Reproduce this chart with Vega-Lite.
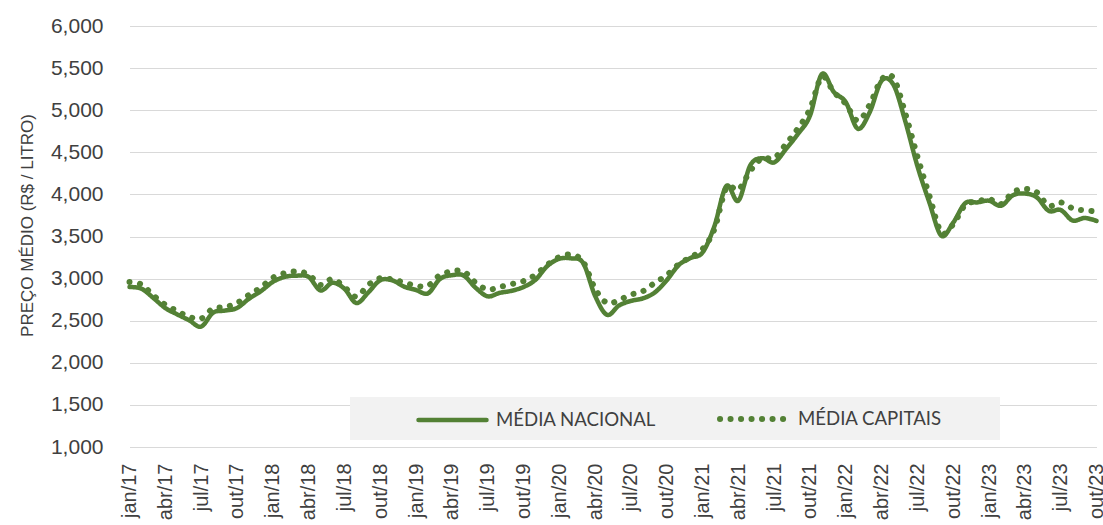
{
  "$schema": "https://vega.github.io/schema/vega-lite/v6.json",
  "autosize": {"type": "none"},
  "padding": {"left": 124, "top": 26, "right": 0, "bottom": 78},
  "width": 979,
  "height": 421,
  "background": "white",
  "config": {"view": {"stroke": null}},
  "data": {"values": [
    {"mes": "jan/17", "MÉDIA NACIONAL": 2900, "MÉDIA CAPITAIS": 2960},
    {"mes": "fev/17", "MÉDIA NACIONAL": 2880, "MÉDIA CAPITAIS": 2930},
    {"mes": "mar/17", "MÉDIA NACIONAL": 2770, "MÉDIA CAPITAIS": 2800},
    {"mes": "abr/17", "MÉDIA NACIONAL": 2650, "MÉDIA CAPITAIS": 2690},
    {"mes": "mai/17", "MÉDIA NACIONAL": 2575, "MÉDIA CAPITAIS": 2615},
    {"mes": "jun/17", "MÉDIA NACIONAL": 2505, "MÉDIA CAPITAIS": 2545},
    {"mes": "jul/17", "MÉDIA NACIONAL": 2430, "MÉDIA CAPITAIS": 2525},
    {"mes": "ago/17", "MÉDIA NACIONAL": 2595, "MÉDIA CAPITAIS": 2645},
    {"mes": "set/17", "MÉDIA NACIONAL": 2620, "MÉDIA CAPITAIS": 2660},
    {"mes": "out/17", "MÉDIA NACIONAL": 2650, "MÉDIA CAPITAIS": 2710},
    {"mes": "nov/17", "MÉDIA NACIONAL": 2760, "MÉDIA CAPITAIS": 2805},
    {"mes": "dez/17", "MÉDIA NACIONAL": 2850, "MÉDIA CAPITAIS": 2895},
    {"mes": "jan/18", "MÉDIA NACIONAL": 2960, "MÉDIA CAPITAIS": 3010},
    {"mes": "fev/18", "MÉDIA NACIONAL": 3020, "MÉDIA CAPITAIS": 3065},
    {"mes": "mar/18", "MÉDIA NACIONAL": 3035, "MÉDIA CAPITAIS": 3085},
    {"mes": "abr/18", "MÉDIA NACIONAL": 3020, "MÉDIA CAPITAIS": 3050},
    {"mes": "mai/18", "MÉDIA NACIONAL": 2860, "MÉDIA CAPITAIS": 2925},
    {"mes": "jun/18", "MÉDIA NACIONAL": 2950, "MÉDIA CAPITAIS": 2995},
    {"mes": "jul/18", "MÉDIA NACIONAL": 2880, "MÉDIA CAPITAIS": 2900},
    {"mes": "ago/18", "MÉDIA NACIONAL": 2710, "MÉDIA CAPITAIS": 2785},
    {"mes": "set/18", "MÉDIA NACIONAL": 2835, "MÉDIA CAPITAIS": 2925},
    {"mes": "out/18", "MÉDIA NACIONAL": 2980, "MÉDIA CAPITAIS": 3005},
    {"mes": "nov/18", "MÉDIA NACIONAL": 2980, "MÉDIA CAPITAIS": 2990},
    {"mes": "dez/18", "MÉDIA NACIONAL": 2905, "MÉDIA CAPITAIS": 2955},
    {"mes": "jan/19", "MÉDIA NACIONAL": 2865, "MÉDIA CAPITAIS": 2915},
    {"mes": "fev/19", "MÉDIA NACIONAL": 2825, "MÉDIA CAPITAIS": 2915},
    {"mes": "mar/19", "MÉDIA NACIONAL": 2995, "MÉDIA CAPITAIS": 3040},
    {"mes": "abr/19", "MÉDIA NACIONAL": 3040, "MÉDIA CAPITAIS": 3085},
    {"mes": "mai/19", "MÉDIA NACIONAL": 3035, "MÉDIA CAPITAIS": 3085},
    {"mes": "jun/19", "MÉDIA NACIONAL": 2890, "MÉDIA CAPITAIS": 2950},
    {"mes": "jul/19", "MÉDIA NACIONAL": 2790, "MÉDIA CAPITAIS": 2870},
    {"mes": "ago/19", "MÉDIA NACIONAL": 2830, "MÉDIA CAPITAIS": 2900},
    {"mes": "set/19", "MÉDIA NACIONAL": 2855, "MÉDIA CAPITAIS": 2935},
    {"mes": "out/19", "MÉDIA NACIONAL": 2900, "MÉDIA CAPITAIS": 2970},
    {"mes": "nov/19", "MÉDIA NACIONAL": 2985, "MÉDIA CAPITAIS": 3045},
    {"mes": "dez/19", "MÉDIA NACIONAL": 3150, "MÉDIA CAPITAIS": 3165},
    {"mes": "jan/20", "MÉDIA NACIONAL": 3235, "MÉDIA CAPITAIS": 3255},
    {"mes": "fev/20", "MÉDIA NACIONAL": 3240, "MÉDIA CAPITAIS": 3285},
    {"mes": "mar/20", "MÉDIA NACIONAL": 3185, "MÉDIA CAPITAIS": 3200},
    {"mes": "abr/20", "MÉDIA NACIONAL": 2795, "MÉDIA CAPITAIS": 2880},
    {"mes": "mai/20", "MÉDIA NACIONAL": 2570, "MÉDIA CAPITAIS": 2710},
    {"mes": "jun/20", "MÉDIA NACIONAL": 2680, "MÉDIA CAPITAIS": 2745},
    {"mes": "jul/20", "MÉDIA NACIONAL": 2735, "MÉDIA CAPITAIS": 2810},
    {"mes": "ago/20", "MÉDIA NACIONAL": 2765, "MÉDIA CAPITAIS": 2850},
    {"mes": "set/20", "MÉDIA NACIONAL": 2835, "MÉDIA CAPITAIS": 2950},
    {"mes": "out/20", "MÉDIA NACIONAL": 2980, "MÉDIA CAPITAIS": 3040},
    {"mes": "nov/20", "MÉDIA NACIONAL": 3160, "MÉDIA CAPITAIS": 3170},
    {"mes": "dez/20", "MÉDIA NACIONAL": 3245, "MÉDIA CAPITAIS": 3255},
    {"mes": "jan/21", "MÉDIA NACIONAL": 3310, "MÉDIA CAPITAIS": 3350},
    {"mes": "fev/21", "MÉDIA NACIONAL": 3625, "MÉDIA CAPITAIS": 3590},
    {"mes": "mar/21", "MÉDIA NACIONAL": 4100, "MÉDIA CAPITAIS": 4080},
    {"mes": "abr/21", "MÉDIA NACIONAL": 3925, "MÉDIA CAPITAIS": 4055},
    {"mes": "mai/21", "MÉDIA NACIONAL": 4345, "MÉDIA CAPITAIS": 4280},
    {"mes": "jun/21", "MÉDIA NACIONAL": 4430, "MÉDIA CAPITAIS": 4430},
    {"mes": "jul/21", "MÉDIA NACIONAL": 4380, "MÉDIA CAPITAIS": 4430},
    {"mes": "ago/21", "MÉDIA NACIONAL": 4540, "MÉDIA CAPITAIS": 4600},
    {"mes": "set/21", "MÉDIA NACIONAL": 4720, "MÉDIA CAPITAIS": 4785},
    {"mes": "out/21", "MÉDIA NACIONAL": 4935, "MÉDIA CAPITAIS": 5015},
    {"mes": "nov/21", "MÉDIA NACIONAL": 5430, "MÉDIA CAPITAIS": 5395},
    {"mes": "dez/21", "MÉDIA NACIONAL": 5215, "MÉDIA CAPITAIS": 5215},
    {"mes": "jan/22", "MÉDIA NACIONAL": 5095, "MÉDIA CAPITAIS": 5075},
    {"mes": "fev/22", "MÉDIA NACIONAL": 4780, "MÉDIA CAPITAIS": 4875},
    {"mes": "mar/22", "MÉDIA NACIONAL": 4975, "MÉDIA CAPITAIS": 5065},
    {"mes": "abr/22", "MÉDIA NACIONAL": 5350, "MÉDIA CAPITAIS": 5365},
    {"mes": "mai/22", "MÉDIA NACIONAL": 5300, "MÉDIA CAPITAIS": 5380},
    {"mes": "jun/22", "MÉDIA NACIONAL": 4860, "MÉDIA CAPITAIS": 4955},
    {"mes": "jul/22", "MÉDIA NACIONAL": 4335, "MÉDIA CAPITAIS": 4450},
    {"mes": "ago/22", "MÉDIA NACIONAL": 3905, "MÉDIA CAPITAIS": 3985},
    {"mes": "set/22", "MÉDIA NACIONAL": 3510, "MÉDIA CAPITAIS": 3550},
    {"mes": "out/22", "MÉDIA NACIONAL": 3665, "MÉDIA CAPITAIS": 3645},
    {"mes": "nov/22", "MÉDIA NACIONAL": 3895, "MÉDIA CAPITAIS": 3875},
    {"mes": "dez/22", "MÉDIA NACIONAL": 3905, "MÉDIA CAPITAIS": 3915},
    {"mes": "jan/23", "MÉDIA NACIONAL": 3925, "MÉDIA CAPITAIS": 3945},
    {"mes": "fev/23", "MÉDIA NACIONAL": 3865, "MÉDIA CAPITAIS": 3885},
    {"mes": "mar/23", "MÉDIA NACIONAL": 3990, "MÉDIA CAPITAIS": 4025},
    {"mes": "abr/23", "MÉDIA NACIONAL": 4010, "MÉDIA CAPITAIS": 4065},
    {"mes": "mai/23", "MÉDIA NACIONAL": 3965, "MÉDIA CAPITAIS": 4025},
    {"mes": "jun/23", "MÉDIA NACIONAL": 3805, "MÉDIA CAPITAIS": 3865},
    {"mes": "jul/23", "MÉDIA NACIONAL": 3815, "MÉDIA CAPITAIS": 3905},
    {"mes": "ago/23", "MÉDIA NACIONAL": 3690, "MÉDIA CAPITAIS": 3835},
    {"mes": "set/23", "MÉDIA NACIONAL": 3720, "MÉDIA CAPITAIS": 3810},
    {"mes": "out/23", "MÉDIA NACIONAL": 3685, "MÉDIA CAPITAIS": 3800}
  ]},
  "transform": [
    {"fold": ["MÉDIA NACIONAL", "MÉDIA CAPITAIS"], "as": ["serie", "valor"]}
  ],
  "mark": {"type": "line", "interpolate": "cardinal", "tension": 0, "color": "#538135", "strokeCap": "round", "strokeJoin": "round"},
  "encoding": {
    "x": {
      "field": "mes", "type": "ordinal", "sort": null,
      "scale": {"type": "point", "range": [5.5, 972.5], "padding": 0},
      "axis": {
        "title": null, "domain": false, "ticks": false, "grid": false,
        "labelAngle": -90, "labelPadding": 16, "labelOverlap": false, "labelBound": false,
        "labelFont": "Liberation Sans", "labelFontSize": 20, "labelColor": "#404040",
        "values": ["jan/17","abr/17","jul/17","out/17","jan/18","abr/18","jul/18","out/18","jan/19","abr/19","jul/19","out/19","jan/20","abr/20","jul/20","out/20","jan/21","abr/21","jul/21","out/21","jan/22","abr/22","jul/22","out/22","jan/23","abr/23","jul/23","out/23"]
      }
    },
    "y": {
      "field": "valor", "type": "quantitative",
      "scale": {"domain": [1000, 6000], "nice": false, "zero": false},
      "axis": {
        "title": "PREÇO MÉDIO (R$ / LITRO)",
        "titleFont": "Liberation Sans", "titleFontSize": 17, "titleFontWeight": "normal", "titleColor": "#404040",
        "titleX": -97, "titleY": 199, "titleAngle": -90, "titleAlign": "center", "titleBaseline": "middle",
        "values": [1000,1500,2000,2500,3000,3500,4000,4500,5000,5500,6000],
        "format": ",.0f", "domain": false, "ticks": false, "labelPadding": 21,
        "labelFont": "Liberation Sans", "labelFontSize": 21, "labelColor": "#404040",
        "grid": true, "gridColor": "#d9d9d9", "gridWidth": 1
      }
    },
    "strokeDash": {
      "field": "serie", "type": "nominal",
      "scale": {"domain": ["MÉDIA NACIONAL", "MÉDIA CAPITAIS"], "range": [[1, 0], [0.1, 10.4]]},
      "legend": {
        "orient": "none", "legendX": 226, "legendY": 371, "direction": "horizontal",
        "title": "\u00a0", "titleOrient": "left", "titleFontSize": 1, "titlePadding": 57,
        "fillColor": "#f2f2f2", "padding": 9, "columnPadding": 52,
        "symbolType": "M-1,0H5.8", "symbolSize": 400, "symbolStrokeWidth": 5, "symbolStrokeColor": "#538135",
        "labelFont": "Lato", "labelFontSize": 18.6, "labelColor": "#404040", "labelOffset": 55, "labelLimit": 400,
        "labelExpr": "datum.value == 'MÉDIA CAPITAIS' ? datum.label + '\u2002\u2002\u2002\u2002\u2002\u2009\u200b' : datum.label",
        "encode": {"symbols": {"update": {"strokeCap": {"value": "round"}}}}
      }
    },
    "strokeWidth": {
      "field": "serie", "type": "nominal",
      "scale": {"domain": ["MÉDIA NACIONAL", "MÉDIA CAPITAIS"], "range": [4.5, 6]},
      "legend": null
    }
  }
}
